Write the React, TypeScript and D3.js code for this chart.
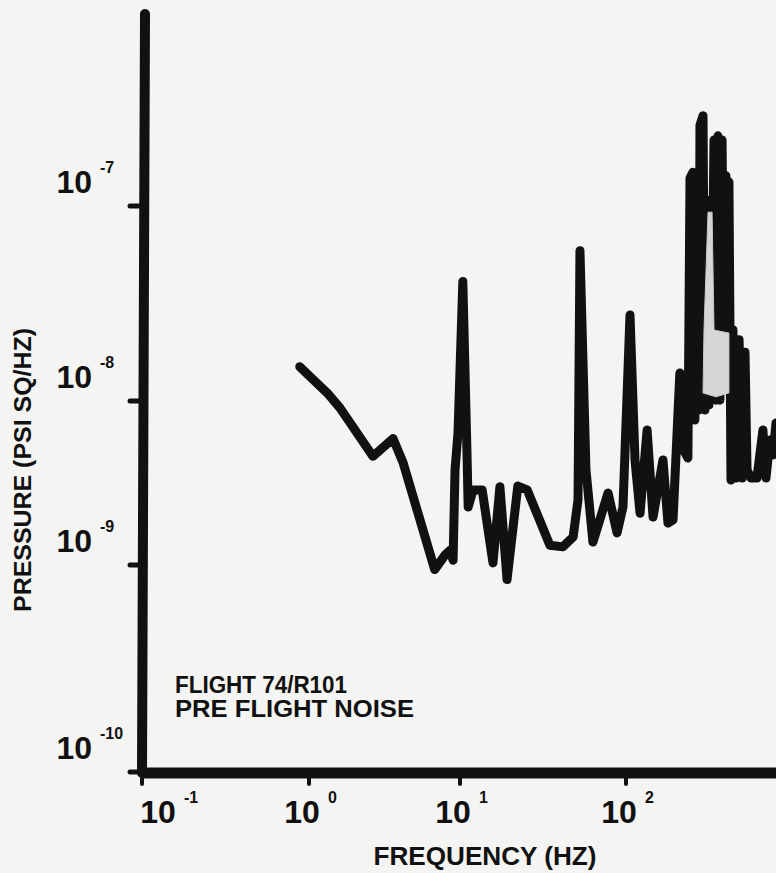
import React from 'react';
import * as d3 from 'd3';

// Frequency (Hz) and pressure PSD (psi^2/Hz)
const FREQ_HZ = [0.88, 1.32, 1.6, 2.65, 3.6, 4.2, 6.8, 7.95, 8.6, 9.0, 9.27, 9.7, 10.4, 11.0, 11.2, 12.0, 13.6, 15.8, 17.4, 19.2, 22.3, 25.4, 34.8, 41.7, 48.0, 51.4, 52.8, 57.4, 63.2, 78.0, 88.3, 95.9, 105.7, 113.3, 121.5, 134, 145.5, 167, 179, 192, 211,
  223, 236, 240, 243, 253, 260, 268, 275, 279, 291, 299, 308, 316, 330, 339, 348, 358, 368, 379, 389, 400, 411, 417, 429, 441, 460, 480, 500, 521, 536, 566, 615, 668, 697, 736, 769, 801];
const PRESSURE = [1.5e-8, 1.1e-8, 9.1e-9, 4.6e-9, 5.9e-9, 4.2e-9, 9.5e-10, 1.15e-9, 1.23e-9, 1.07e-9, 3.8e-9, 6.4e-9, 4.1e-8, 5.2e-9, 2.26e-9, 2.87e-9, 2.87e-9, 1.03e-9, 3.0e-9, 8.5e-10, 3.03e-9, 2.87e-9, 1.32e-9, 1.29e-9, 1.48e-9, 2.49e-9, 5.9e-8, 3.8e-9, 1.38e-9, 2.75e-9, 1.57e-9, 2.26e-9, 2.76e-8, 4.37e-9, 2.07e-9, 6.65e-9, 1.96e-9, 4.37e-9, 1.8e-9, 1.88e-9, 1.39e-8,
  5.0e-9, 4.49e-9, 3.3e-8, 1.39e-7, 1.49e-7, 7.66e-9, 1.36e-7, 8.8e-9, 2.6e-7, 2.9e-7, 8.8e-9, 1.07e-7, 9.46e-9, 3.3e-8, 2.18e-7, 1.01e-8, 2.29e-7, 1.01e-8, 2.18e-7, 2.31e-8, 1.43e-7, 2.31e-8, 1.33e-7, 3.3e-9, 2.31e-8, 3.39e-9, 2.06e-8, 3.39e-9, 1.78e-8, 3.8e-9, 3.39e-9, 3.39e-9, 6.65e-9, 3.39e-9, 5.78e-9, 4.69e-9, 7.34e-9];

// lighter overlapping traces inside the main resonance cluster
const CORE_FREQ = [312, 330, 339, 417, 417, 348, 291, 295];
const CORE_PRESSURE = [9.3e-8, 9.3e-8, 2.31e-8, 2.23e-8, 1.1e-8, 1.05e-8, 1.1e-8, 2.31e-8];

const X_TICKS = [0.1, 1, 10, 100];
const X_TICK_EXP = ['-1', '0', '1', '2'];
const Y_TICKS = [1e-7, 1e-8, 1e-9, 1e-10];
const Y_TICK_EXP = ['-7', '-8', '-9', '-10'];

const X_TITLE = 'FREQUENCY (HZ)';
const Y_TITLE = 'PRESSURE (PSI SQ/HZ)';
const NOTE_1 = 'FLIGHT 74/R101';
const NOTE_2 = 'PRE FLIGHT NOISE';

const W = 776;
const H = 873;
const INK = '#111111';
const FONT = '"Liberation Sans", Arial, Helvetica, sans-serif';

export default function App() {
  // hand-drawn decades are unevenly spaced: piecewise log scales
  const x = d3.scaleLog().domain([0.1, 1, 10, 100]).range([142, 309, 460, 626]);
  const y = d3.scaleLog().domain([1e-10, 1e-9, 1e-8, 1e-7]).range([772, 565, 401, 206]);

  const pts = FREQ_HZ.map((f, i) => ({ f, p: PRESSURE[i] }));
  const core = CORE_FREQ.map((f, i) => ({ f, p: CORE_PRESSURE[i] }));

  const line = d3.line<{ f: number; p: number }>()
    .x(d => x(d.f))
    .y(d => y(d.p))
    .curve(d3.curveLinear);
  const coreLine = d3.line<{ f: number; p: number }>()
    .x(d => x(d.f))
    .y(d => y(d.p))
    .curve(d3.curveLinearClosed);

  const axisX = 144;
  const axisY = 773;

  return (
    <svg width={W} height={H} style={{ position: 'absolute', left: 0, top: 0, background: '#f4f4f2' }}>
      <rect x={0} y={0} width={W} height={H} fill="#f4f4f2" />

      {/* axes */}
      <line x1={145} y1={14} x2={142} y2={axisY} stroke={INK} strokeWidth={10} strokeLinecap="round" />
      <line x1={142} y1={axisY} x2={W + 10} y2={axisY} stroke={INK} strokeWidth={11} />

      {/* y ticks */}
      {Y_TICKS.map((v, i) => (
        <g key={'yt' + i}>
          <line x1={130} y1={y(v)} x2={axisX} y2={y(v)} stroke={INK} strokeWidth={5} strokeLinecap="round" />
          <text x={92} y={y(v) - 13} textAnchor="end" fontFamily={FONT} fontWeight="bold" fontSize={32} fill={INK}>10</text>
          <text x={100} y={y(v) - 33} textAnchor="start" fontFamily={FONT} fontWeight="bold" fontSize={16} fill={INK}>{Y_TICK_EXP[i]}</text>
        </g>
      ))}

      {/* x ticks */}
      {X_TICKS.map((v, i) => {
        const cx = Math.max(x(v) - 7, axisX + 14);
        return (
          <g key={'xt' + i}>
            <line x1={x(v)} y1={axisY} x2={x(v)} y2={784} stroke={INK} strokeWidth={4} strokeLinecap="round" />
            <text x={cx} y={823} textAnchor="middle" fontFamily={FONT} fontWeight="bold" fontSize={32} fill={INK}>10</text>
            <text x={cx + 26} y={803} textAnchor="start" fontFamily={FONT} fontWeight="bold" fontSize={16} fill={INK}>{X_TICK_EXP[i]}</text>
          </g>
        );
      })}

      {/* titles */}
      <text x={485} y={865} textAnchor="middle" fontFamily={FONT} fontWeight="bold" fontSize={26}
        textLength={223} lengthAdjust="spacingAndGlyphs" fill={INK}>{X_TITLE}</text>
      <text transform="translate(31,470) rotate(-90)" textAnchor="middle" fontFamily={FONT} fontWeight="bold" fontSize={23}
        textLength={284} lengthAdjust="spacingAndGlyphs" fill={INK}>{Y_TITLE}</text>

      {/* annotation */}
      <text x={175} y={693} fontFamily={FONT} fontWeight="bold" fontSize={23} textLength={172}
        lengthAdjust="spacingAndGlyphs" fill={INK}>{NOTE_1}</text>
      <text x={175} y={717} fontFamily={FONT} fontWeight="bold" fontSize={23} textLength={239}
        lengthAdjust="spacingAndGlyphs" fill={INK}>{NOTE_2}</text>

      {/* data */}
      <path d={line(pts) || ''} fill="none" stroke={INK} strokeWidth={9} strokeLinejoin="round" strokeLinecap="round" />
      <path d={coreLine(core) || ''} fill="#d6d6d4" stroke="#c8c8c6" strokeWidth={1} />
    </svg>
  );
}
